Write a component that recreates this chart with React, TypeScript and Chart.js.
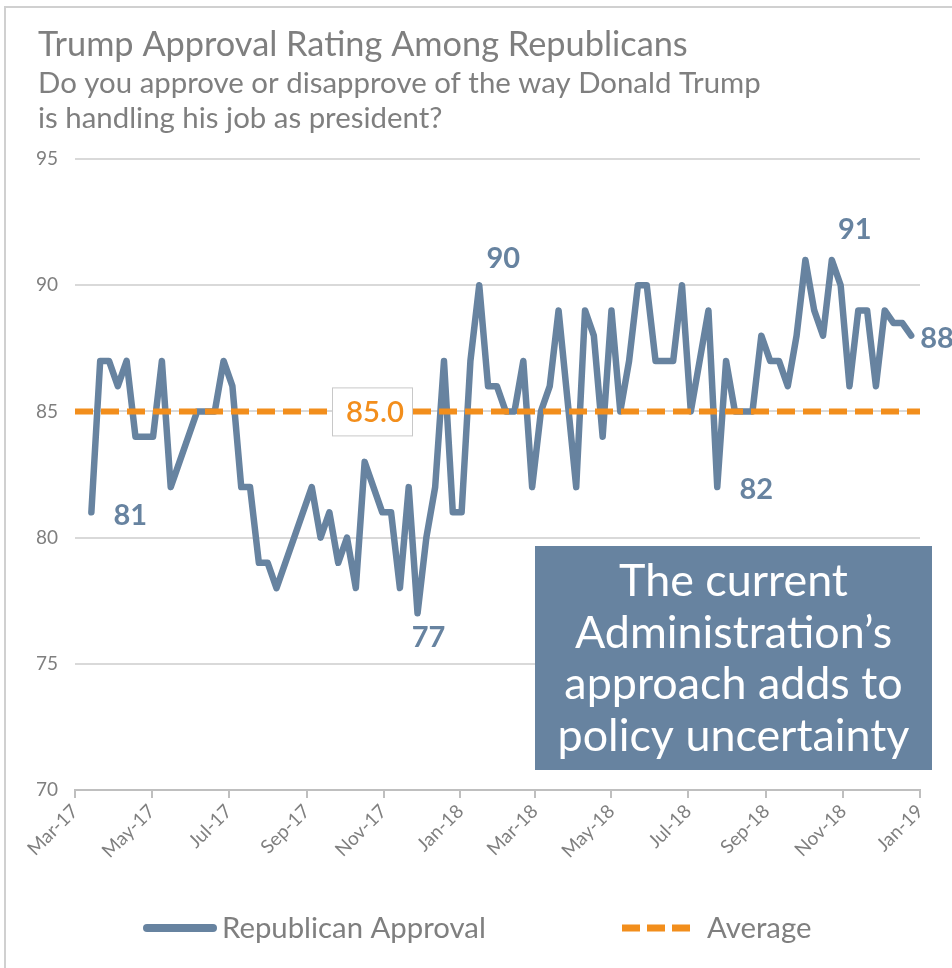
import React, { useEffect, useRef } from "react";
import { Chart, registerables } from "chart.js";

Chart.register(...registerables);

// ---------- data ----------
const chartTitle = "Trump Approval Rating Among Republicans";
const subtitleLines = [
  "Do you approve or disapprove of the way Donald Trump",
  "is handling his job as president?",
];
const seriesName = "Republican Approval";
const averageName = "Average";
const firstWeekDate = "2017-03-14";
// week number (since firstWeekDate) of each poll
const weekIndex = [
  0, 1, 2, 3, 4, 5, 6, 7, 8, 9,
  12, 13, 14, 15, 16, 17, 18, 19, 20, 21,
  25, 26, 27, 28, 29, 30, 31,
  33, 34, 35, 36, 37, 38, 39, 40, 41, 42, 43, 44, 45, 46, 47, 48, 49, 50, 51, 52, 53,
  55, 56, 57, 58, 59, 60, 61, 62, 63, 64, 65, 66, 67, 68,
  70, 71, 72, 73, 74, 75, 76, 77, 78, 79, 80, 81, 82, 83, 84, 85, 86, 87, 88, 89, 90, 91, 92, 93,
];
const approval = [
  81, 87, 87, 86, 87, 84, 84, 84, 87, 82,
  85, 85, 85, 87, 86, 82, 82, 79, 79, 78,
  82, 80, 81, 79, 80, 78, 83,
  81, 81, 78, 82, 77, 80, 82, 87, 81, 81, 87, 90, 86, 86, 85, 85, 87, 82, 85, 86, 89,
  82, 89, 88, 84, 89, 85, 87, 90, 90, 87, 87, 87, 90, 85,
  89, 82, 87, 85, 85, 85, 88, 87, 87, 86, 88, 91, 89, 88, 91, 90, 86, 89, 89, 86, 89, 88.5, 88.5, 88,
];
const averageValue = 85.0;
const tickLabels = [
  "Mar-17", "May-17", "Jul-17", "Sep-17", "Nov-17", "Jan-18",
  "Mar-18", "May-18", "Jul-18", "Sep-18", "Nov-18", "Jan-19",
];
const yMin = 70;
const yMax = 95;
const yStep = 5;
const labelledWeeks = [0, 37, 44, 71, 84, 93];
const calloutLines = ["The current", "Administration\u2019s", "approach adds to", "policy uncertainty"];

// ---------- helpers ----------
const MONTHS = ["Jan", "Feb", "Mar", "Apr", "May", "Jun", "Jul", "Aug", "Sep", "Oct", "Nov", "Dec"];
const DAY = 86400000;
const monthStart = (lbl: string) => {
  const [m, y] = lbl.split("-");
  return Date.UTC(2000 + Number(y), MONTHS.indexOf(m), 1);
};
const axisStart = monthStart(tickLabels[0]);
const toDay = (ms: number) => (ms - axisStart) / DAY;
const tickDays = tickLabels.map((l) => toDay(monthStart(l)));
const firstDay = toDay(Date.parse(firstWeekDate));
const approvalPoints = weekIndex.map((w, i) => ({ x: firstDay + 7 * w, y: approval[i] }));
const averagePoints = [
  { x: tickDays[0], y: averageValue },
  { x: tickDays[tickDays.length - 1], y: averageValue },
];

// styles
const FONT = "Lato, 'Open Sans', sans-serif";
const BLUE = "#6783a0";
const ORANGE = "#f28e1c";
const GRAY_TEXT = "#7f7f7f";

const fitSize = (ctx: CanvasRenderingContext2D, text: string, weight: string, target: number) => {
  ctx.font = `${weight} 100px ${FONT}`;
  return (100 * target) / ctx.measureText(text).width;
};

// label offsets (pixels, relative to the point), same order as labelledWeeks
const labelOffsets = [
  { dx: 39, dy: 3, align: "center" },
  { dx: 11, dy: 24, align: "center" },
  { dx: 24, dy: -27, align: "center" },
  { dx: 39, dy: 3, align: "center" },
  { dx: 23, dy: -30, align: "center" },
  { dx: 9, dy: 3, align: "left" },
];

const decorPlugin = {
  id: "decor",
  beforeDraw(chart: any) {
    const ctx: CanvasRenderingContext2D = chart.ctx;
    ctx.save();
    ctx.fillStyle = "#ffffff";
    ctx.fillRect(0, 0, chart.width, chart.height);
    // frame
    ctx.strokeStyle = "#d0d0d0";
    ctx.lineWidth = 2;
    ctx.beginPath();
    ctx.moveTo(5, chart.height);
    ctx.lineTo(5, 7);
    ctx.lineTo(chart.width, 7);
    ctx.stroke();
    // titles
    ctx.fillStyle = GRAY_TEXT;
    ctx.textAlign = "left";
    ctx.textBaseline = "alphabetic";
    const ts = fitSize(ctx, chartTitle, "400", 650);
    ctx.font = `400 ${ts}px ${FONT}`;
    ctx.fillText(chartTitle, 38, 56);
    const ss = fitSize(ctx, subtitleLines[0], "400", 723);
    ctx.font = `400 ${ss}px ${FONT}`;
    ctx.fillText(subtitleLines[0], 38, 93);
    ctx.fillText(subtitleLines[1], 38, 128);
    ctx.restore();
  },
  afterDatasetsDraw(chart: any) {
    const ctx: CanvasRenderingContext2D = chart.ctx;
    const xs = chart.scales.x;
    const ys = chart.scales.y;
    ctx.save();
    // average label
    const ay = ys.getPixelForValue(averageValue);
    const ax = 372;
    ctx.fillStyle = "#ffffff";
    ctx.fillRect(ax - 40, ay - 24, 80, 48);
    ctx.strokeStyle = "#c8c8c8";
    ctx.lineWidth = 1;
    ctx.strokeRect(ax - 40 + 0.5, ay - 24 + 0.5, 80, 48);
    ctx.fillStyle = ORANGE;
    ctx.textAlign = "center";
    ctx.textBaseline = "middle";
    const avgTxt = averageValue.toFixed(1);
    const as = fitSize(ctx, avgTxt, "600", 58);
    ctx.font = `600 ${as}px ${FONT}`;
    ctx.fillText(avgTxt, ax + 3, ay + 1);

    // point labels
    ctx.fillStyle = BLUE;
    ctx.font = `700 29px ${FONT}`;
    labelledWeeks.forEach((w, k) => {
      const i = weekIndex.indexOf(w);
      const p = approvalPoints[i];
      const px = xs.getPixelForValue(p.x);
      const py = ys.getPixelForValue(p.y);
      const o = labelOffsets[k];
      ctx.textAlign = o.align as CanvasTextAlign;
      ctx.fillText(String(Math.round(p.y)), px + o.dx, py + o.dy);
    });

    // callout box
    ctx.fillStyle = BLUE;
    ctx.fillRect(535, 546, 397, 224);
    ctx.fillStyle = "#ffffff";
    const cs = fitSize(ctx, calloutLines[3], "400", 352);
    ctx.font = `400 ${cs}px ${FONT}`;
    ctx.textAlign = "center";
    ctx.textBaseline = "alphabetic";
    const baselines = [596, 648, 699, 751];
    calloutLines.forEach((l, i) => ctx.fillText(l, 733.5, baselines[i]));

    // legend
    const ly = 928;
    ctx.lineCap = "round";
    ctx.strokeStyle = BLUE;
    ctx.lineWidth = 8;
    ctx.beginPath();
    ctx.moveTo(147, ly);
    ctx.lineTo(213, ly);
    ctx.stroke();
    ctx.lineCap = "butt";
    ctx.strokeStyle = ORANGE;
    ctx.lineWidth = 7;
    ctx.setLineDash([18, 7]);
    ctx.beginPath();
    ctx.moveTo(622, ly);
    ctx.lineTo(690, ly);
    ctx.stroke();
    ctx.setLineDash([]);
    const ls = fitSize(ctx, seriesName, "400", 264);
    ctx.font = `400 ${ls}px ${FONT}`;
    ctx.fillStyle = GRAY_TEXT;
    ctx.textAlign = "left";
    ctx.textBaseline = "middle";
    ctx.fillText(seriesName, 222, ly + 1);
    ctx.fillText(averageName, 707, ly + 1);
    ctx.restore();
  },
};

export default function App() {
  const ref = useRef<HTMLCanvasElement | null>(null);
  useEffect(() => {
    if (!ref.current) return;
    const chart = new Chart(ref.current, {
      type: "line",
      data: {
        datasets: [
          {
            label: seriesName,
            data: approvalPoints,
            borderColor: BLUE,
            borderWidth: 6.5,
            pointRadius: 0,
            tension: 0,
            borderJoinStyle: "round",
            borderCapStyle: "round",
            order: 2,
          },
          {
            label: averageName,
            data: averagePoints,
            borderColor: ORANGE,
            borderWidth: 6,
            borderDash: [18, 8],
            pointRadius: 0,
            order: 1,
          },
        ],
      },
      options: {
        animation: false,
        responsive: false,
        devicePixelRatio: 1,
        parsing: true,
        layout: { padding: { top: 159, right: 32, left: 0, bottom: 0 } },
        plugins: {
          legend: { display: false },
          title: { display: false },
          tooltip: { enabled: false },
        },
        scales: {
          x: {
            type: "linear",
            min: tickDays[0],
            max: tickDays[tickDays.length - 1],
            afterBuildTicks: (scale: any) => {
              scale.ticks = tickDays.map((v) => ({ value: v }));
            },
            afterFit: (scale: any) => {
              scale.height = 178;
            },
            grid: {
              drawOnChartArea: false,
              drawTicks: true,
              tickLength: 8,
              color: "#bfbfbf",
              lineWidth: 2,
            },
            border: { display: true, color: "#bfbfbf", width: 2 },
            ticks: {
              autoSkip: false,
              maxRotation: 45,
              minRotation: 45,
              padding: 2,
              color: GRAY_TEXT,
              font: { family: FONT, size: 19 },
              callback: (_v: any, i: number) => tickLabels[i],
            },
          },
          y: {
            min: yMin,
            max: yMax,
            afterFit: (scale: any) => {
              scale.width = 75;
            },
            grid: { color: "#d9d9d9", lineWidth: 2, drawTicks: false },
            border: { display: false },
            ticks: {
              stepSize: yStep,
              padding: 17,
              color: GRAY_TEXT,
              font: { family: FONT, size: 19 },
            },
          },
        },
      },
      plugins: [decorPlugin],
    } as any);
    return () => chart.destroy();
  }, []);
  return (
    <div style={{ position: "absolute", left: 0, top: 0, width: 952, height: 968 }}>
      <canvas ref={ref} width={952} height={968} style={{ display: "block" }} />
    </div>
  );
}
